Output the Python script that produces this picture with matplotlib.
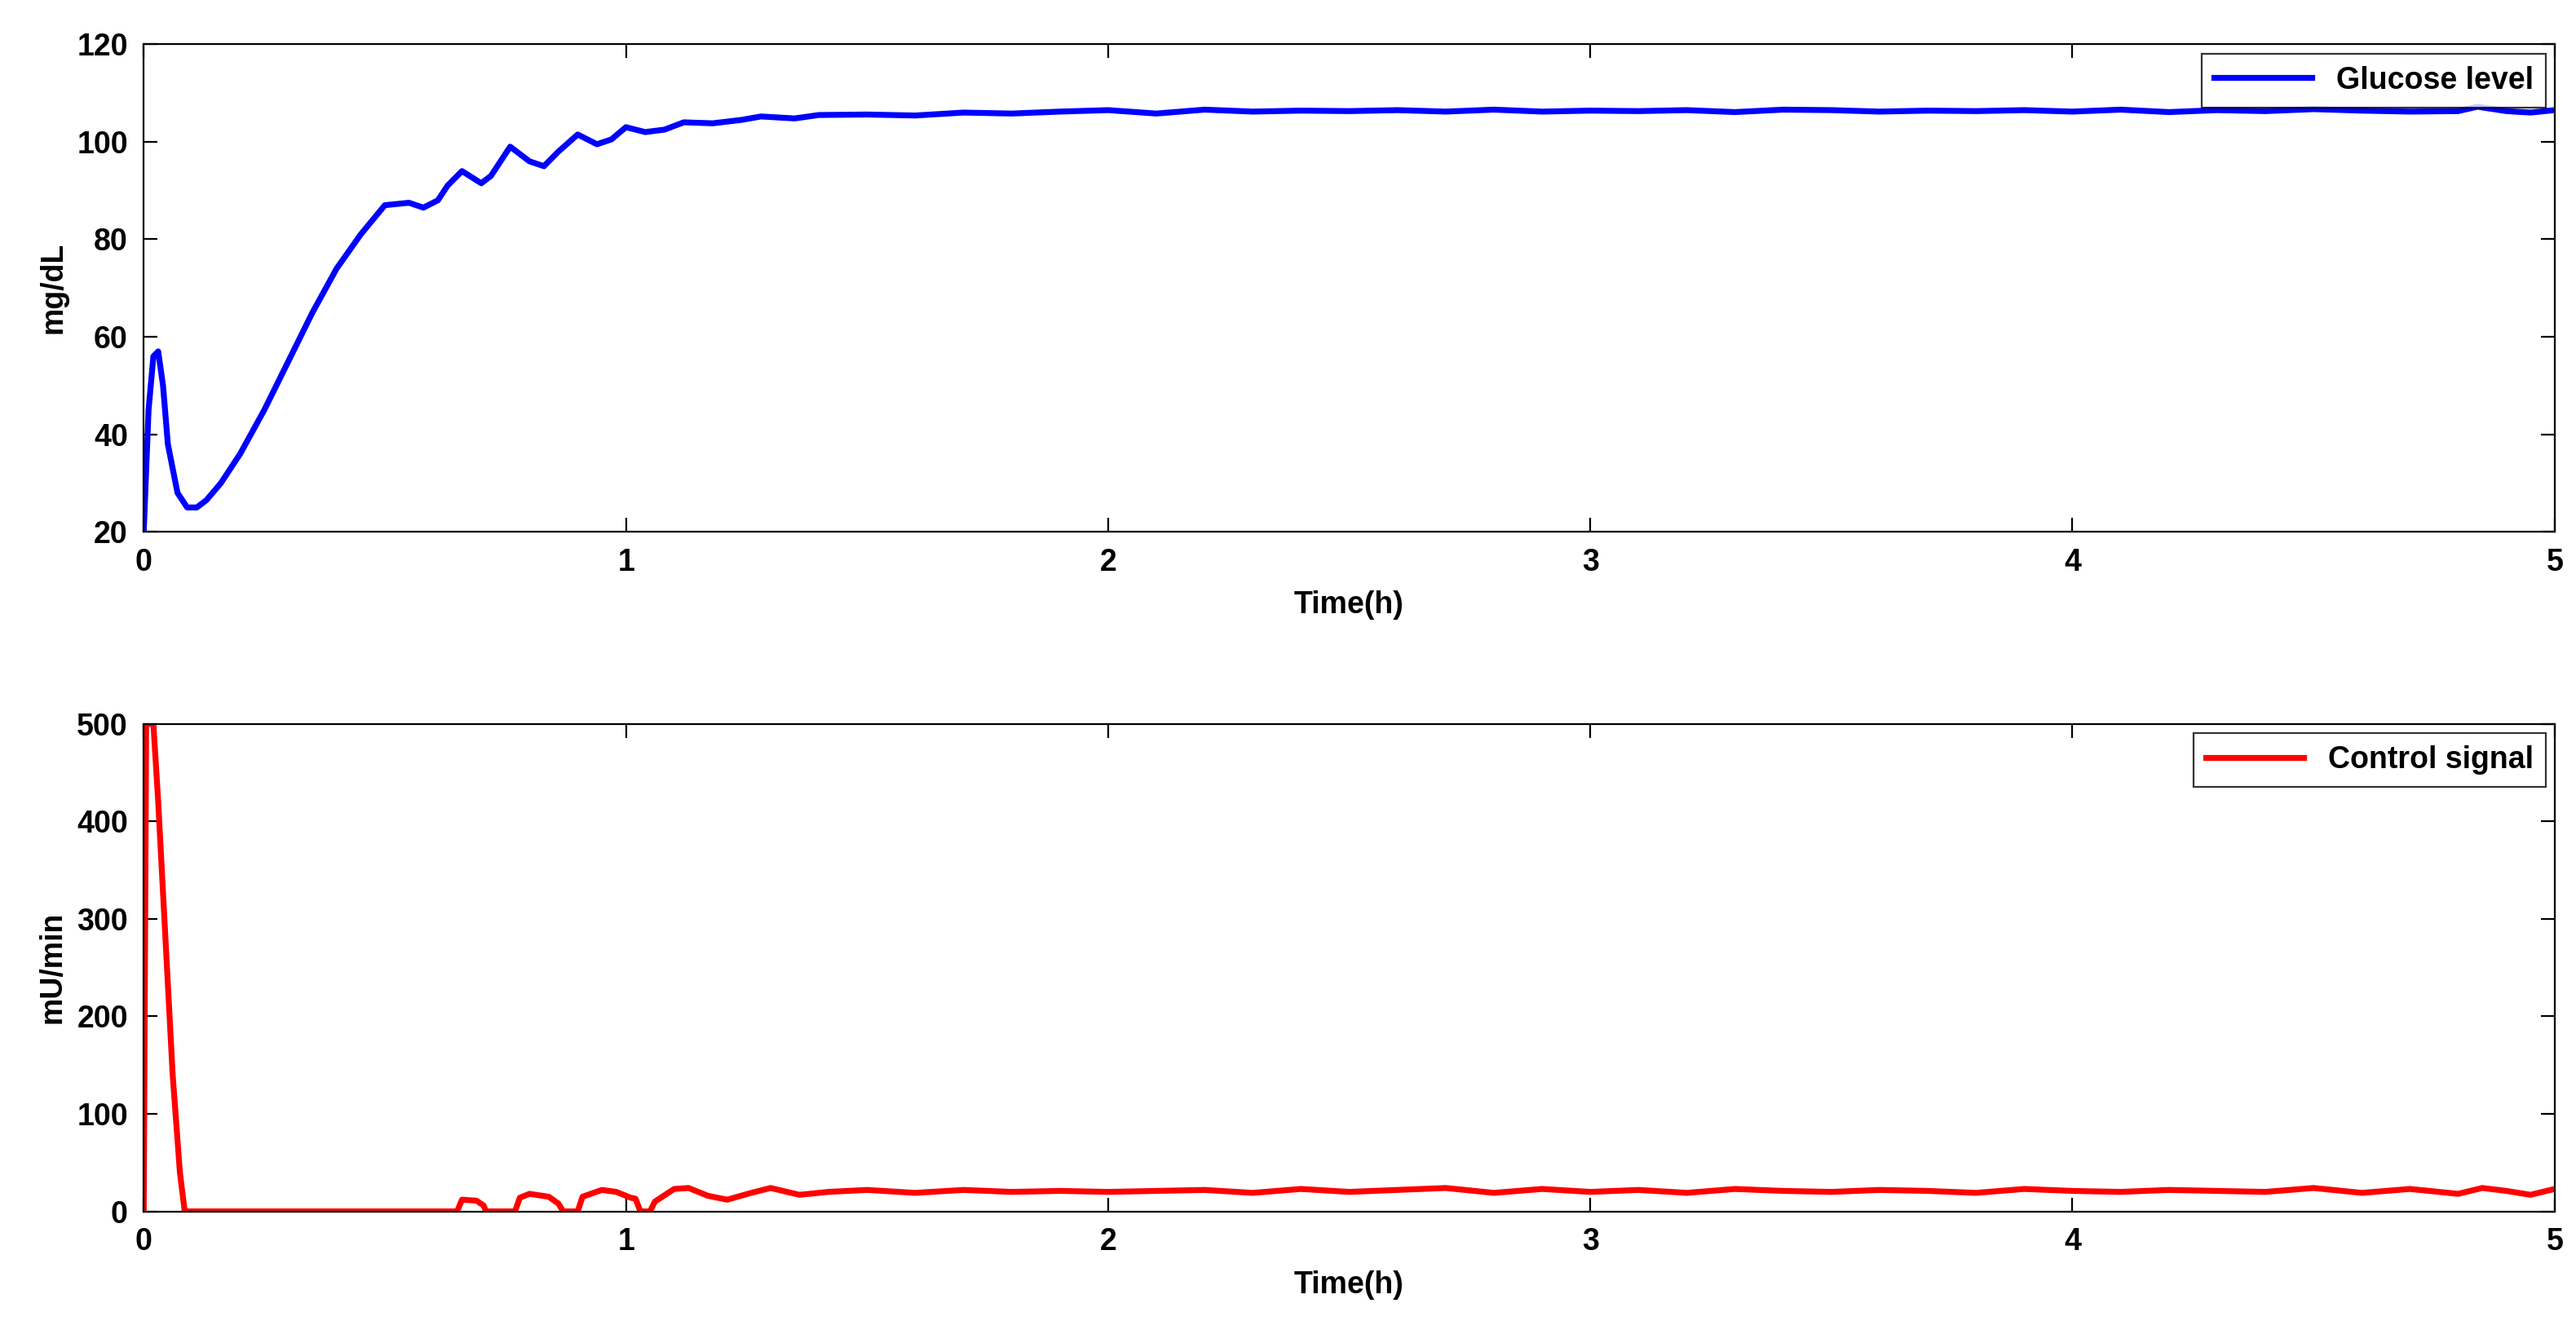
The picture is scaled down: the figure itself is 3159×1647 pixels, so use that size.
import matplotlib
matplotlib.use("Agg")
import matplotlib.pyplot as plt

plt.rcParams['font.family'] = ['Liberation Sans', 'DejaVu Sans']
plt.rcParams['font.weight'] = 'bold'

glu_t = [0, 0.01, 0.02, 0.03, 0.04, 0.05, 0.07, 0.09, 0.11, 0.13, 0.16, 0.2, 0.25, 0.3, 0.35, 0.4, 0.45, 0.5,
         0.55, 0.58, 0.61, 0.63, 0.66, 0.7, 0.72, 0.76, 0.8, 0.83, 0.86, 0.9, 0.94, 0.97, 1.0, 1.04, 1.08,
         1.12, 1.18, 1.24, 1.28, 1.35, 1.4, 1.5, 1.6, 1.7, 1.8, 1.9, 2.0, 2.1, 2.2, 2.3, 2.4, 2.5, 2.6,
         2.7, 2.8, 2.9, 3.0, 3.1, 3.2, 3.3, 3.4, 3.5, 3.6, 3.7, 3.8, 3.9, 4.0, 4.1, 4.2, 4.3, 4.4, 4.5,
         4.6, 4.7, 4.8, 4.84, 4.9, 4.95, 5.0]
glu_v = [20, 45, 56, 57, 50, 38, 28, 25, 25, 26.5, 30, 36, 45, 55, 65, 74, 81, 87,
         87.5, 86.5, 88, 91, 94, 91.5, 93, 99, 96, 95, 98, 101.5, 99.5, 100.5, 103, 102, 102.5,
         104, 103.8, 104.5, 105.2, 104.8, 105.5, 105.6, 105.4, 106, 105.8, 106.2, 106.5, 105.8, 106.6, 106.2, 106.4, 106.3, 106.5,
         106.2, 106.6, 106.2, 106.4, 106.3, 106.5, 106.1, 106.6, 106.5, 106.2, 106.4, 106.3, 106.5, 106.2, 106.6, 106.1, 106.5, 106.3, 106.7,
         106.4, 106.2, 106.3, 107.2, 106.3, 106.0, 106.5]

ctl_t = [0, 0.005, 0.02, 0.03, 0.045, 0.06, 0.075, 0.085, 0.65, 0.66, 0.69, 0.705, 0.71, 0.77, 0.78, 0.8, 0.84, 0.86,
         0.87, 0.9, 0.91, 0.95, 0.98, 1.01, 1.02, 1.03, 1.05, 1.06, 1.1, 1.13, 1.17, 1.21, 1.26, 1.3, 1.36, 1.42,
         1.5, 1.6, 1.7, 1.8, 1.9, 2.0, 2.1, 2.2, 2.3, 2.4, 2.5, 2.6, 2.7, 2.8, 2.9, 3.0, 3.1, 3.2, 3.3, 3.4,
         3.5, 3.6, 3.7, 3.8, 3.9, 4.0, 4.1, 4.2, 4.3, 4.4, 4.5, 4.6, 4.7, 4.8, 4.85, 4.9, 4.95, 5.0]
ctl_v = [0, 500, 500, 420, 280, 140, 40, 0, 0, 12, 11, 6, 0, 0, 14, 18, 15, 8,
         0, 0, 15, 22, 20, 14, 13, 0, 0, 10, 23, 24, 16, 12, 19, 24, 17, 20,
         22, 19, 22, 20, 21, 20, 21, 22, 19, 23, 20, 22, 24, 19, 23, 20, 22, 19, 23, 21,
         20, 22, 21, 19, 23, 21, 20, 22, 21, 20, 24, 19, 23, 18, 24, 21, 17, 23]

fig = plt.figure(figsize=(15.795, 8.235), dpi=200)
ax1 = fig.add_axes([0.0558, 0.604, 0.9359, 0.363])
ax2 = fig.add_axes([0.0558, 0.098, 0.9359, 0.363])

ax1.plot(glu_t, glu_v, color='#0000ff', lw=2.6, label='Glucose level')
ax1.set_xlim(0, 5); ax1.set_ylim(20, 120)
ax1.set_yticks([20, 40, 60, 80, 100, 120])
ax1.set_ylabel('mg/dL', fontsize=13.5, fontweight='bold')
ax2.plot(ctl_t, ctl_v, color='#ff0000', lw=2.6, label='Control signal')
ax2.set_xlim(0, 5); ax2.set_ylim(0, 500)
ax2.set_yticks([0, 100, 200, 300, 400, 500])
ax2.set_ylabel('mU/min', fontsize=13.5, fontweight='bold')

for ax in (ax1, ax2):
    ax.set_xticks([0, 1, 2, 3, 4, 5])
    ax.set_xlabel('Time(h)', fontsize=13.5, fontweight='bold', labelpad=6)
    ax.tick_params(labelsize=13.5, direction='in', top=True, right=True, length=6, pad=7)
    leg = ax.legend(loc='upper right', fontsize=13.5, fancybox=False, edgecolor='black',
                    borderaxespad=0.3, handlelength=3.2)
    leg.get_frame().set_linewidth(0.8)

fig.savefig('out.png', dpi=200, facecolor='white')
